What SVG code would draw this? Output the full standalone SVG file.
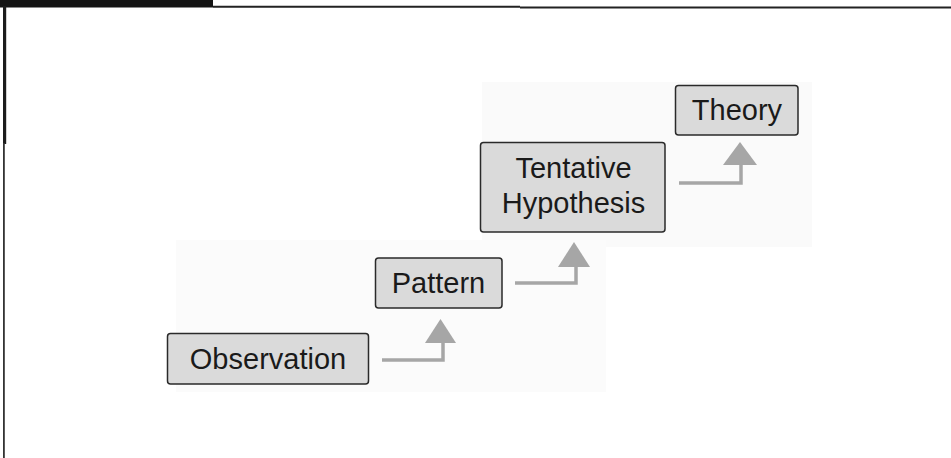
<svg xmlns="http://www.w3.org/2000/svg" width="951" height="458" viewBox="0 0 951 458">
<style>
.box{fill:#dadada;stroke:#2a2a2a;stroke-width:1.5}
.lbl{font-family:"Liberation Sans",Arial,sans-serif;font-size:29px;fill:#1a1a1a;text-anchor:middle}
.stem{fill:none;stroke:#a6a6a6;stroke-width:3.5}
.head{fill:#a6a6a6}
</style>
<rect width="951" height="458" fill="#ffffff"/>
<rect x="482" y="82" width="330" height="165" fill="#fafafa"/>
<rect x="176" y="240" width="430" height="152" fill="#fbfbfb"/>
<g id="frame">
<rect x="0" y="0" width="213" height="7.5" fill="#141414"/>
<path d="M213 6.8 H520 M520 7.5 H951" stroke="#222" stroke-width="2" fill="none"/>
<rect x="3" y="6" width="3.2" height="138" fill="#1c1c1c"/>
<rect x="3" y="143" width="1.8" height="315" fill="#333"/>
</g>
<g id="connectors">
<path class="stem" d="M382 360 H443 V341"/>
<polygon class="head" points="440.5,319 456,343 425,343"/>
<path class="stem" d="M515 283 H576 V265"/>
<polygon class="head" points="574,242 590,267 558,267"/>
<path class="stem" d="M679 183 H741 V163"/>
<polygon class="head" points="740,142 757,165 723,165"/>
</g>
<g id="observation">
<rect class="box" x="167.5" y="333.5" width="201" height="50.5" rx="3"/>
<text class="lbl" x="268" y="368.5">Observation</text>
</g>
<g id="pattern">
<rect class="box" x="375.5" y="258" width="126.5" height="50" rx="3"/>
<text class="lbl" x="438.5" y="292.5">Pattern</text>
</g>
<g id="hypothesis">
<rect class="box" x="480.5" y="142.5" width="184.5" height="89.5" rx="3"/>
<text class="lbl" x="573.5" y="178">Tentative</text>
<text class="lbl" x="573.5" y="213">Hypothesis</text>
</g>
<g id="theory">
<rect class="box" x="675.5" y="85.5" width="122.5" height="49.5" rx="3"/>
<text class="lbl" x="737" y="119.5">Theory</text>
</g>
</svg>
